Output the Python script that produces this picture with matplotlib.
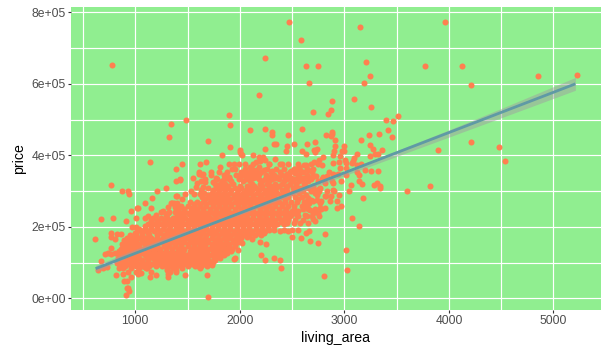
import numpy as np
import matplotlib
matplotlib.use("Agg")
import matplotlib.pyplot as plt

plt.rcParams['font.family'] = ['Liberation Sans', 'DejaVu Sans']

# scattered points
sparse_area = [2474, 2589, 780, 2244, 2187, 1900, 1488, 1345, 1909, 1325, 2100, 2244, 2311, 2311, 2464, 2598,
               1699, 1909, 2244, 2330, 2349, 2455, 2445, 2522, 2598, 2005, 2005, 2014, 2024, 1833, 2129, 1144,
               1450, 1392, 1622, 1679, 1813, 1900, 1947, 1995, 1928, 2187, 2225, 2158, 2196, 2244, 2282, 2340, 2407,
               2100, 2100, 2158, 2187, 2234, 2311, 2014, 2100, 2129, 2167, 2187, 2455, 2493, 2532, 2570, 2532, 2580, 2618,
               1612, 1644, 1606, 1427, 1555, 1670, 1775, 1861, 1900, 2005, 2129, 2257, 2340, 2448, 2493, 2608,
               3153, 3967, 2636, 2751, 3211, 3775, 4129, 5230, 4857, 3249, 2665, 3191, 4215, 3096, 2885, 2876,
               2847, 2703, 3258, 3517, 3402, 3469, 3421, 3335, 3239, 3459, 3163, 2885, 2885, 2876, 2828, 2914,
               2722, 2646, 4215, 4483, 3900, 4541, 2914, 3000, 3249, 3278, 3364, 3124, 3297, 3325, 3249, 2713,
               2742, 2722, 2636, 3000, 2981, 2904, 2895, 2962, 2799, 2761, 2713, 2751, 2789, 2895, 2952, 3010,
               3019, 3019, 3096, 3077, 3086, 3124, 3160, 3201, 3258, 3325, 3124, 3144, 3019, 2636, 2655, 2646,
               2713, 2732, 2837, 2895, 2943, 2789, 2958,
               3823, 3603, 3345, 3345, 3287, 3316, 3172, 3144, 3067, 2971, 3048, 3182, 2952, 2895, 2876, 2933,
               2971, 2933, 2818, 2827, 2761, 2742, 3077, 3144, 2818, 2675, 2751, 2665, 2636, 3019, 3029, 2809,
               2703, 2722, 2818, 2770, 2751, 2703, 2675, 2665, 2684, 2742, 2770, 2655, 2636, 2735, 2751, 2719,
               2703, 2767, 2815, 2879, 2895,
               617, 675, 789, 770, 876, 933, 943, 914, 962, 1019, 1029, 1096, 1153, 1163, 1211, 1297, 1392, 1430,
               1632, 1593, 1344, 1373, 1402, 1354, 1392, 1402, 1536, 1450, 1632, 1708, 1555, 1268, 1316, 1124,
               1096, 1010, 971, 1010, 770, 770, 828, 866, 809, 675, 742, 713, 770, 770, 809, 646, 694, 726, 818,
               828, 847, 885, 895, 923, 923, 943, 914, 933, 1699, 1689, 1479, 1316, 1316, 1306, 1144, 1201, 961,
               1029, 1058, 1096, 1115, 1392, 1344, 1383, 1603, 1632, 1737, 1747, 1947, 1957, 2206, 2244, 2330,
               2387, 2397, 2254, 2196, 1986, 1919, 1794, 2072, 2024, 2120, 2387, 2464, 2502, 2589]
sparse_price = [774e3, 724e3, 654e3, 671e3, 570e3, 514e3, 500e3, 489e3, 484e3, 450e3, 470e3, 475e3, 464e3, 457e3, 456e3, 475e3,
                439e3, 422e3, 419e3, 431e3, 433e3, 425e3, 411e3, 431e3, 411e3, 414e3, 408e3, 405e3, 400e3, 400e3, 400e3, 380e3,
                375e3, 361e3, 375e3, 380e3, 366e3, 375e3, 375e3, 375e3, 361e3, 394e3, 394e3, 380e3, 383e3, 386e3, 375e3, 389e3, 375e3,
                366e3, 352e3, 360e3, 366e3, 358e3, 355e3, 347e3, 344e3, 347e3, 350e3, 347e3, 347e3, 355e3, 361e3, 366e3, 350e3, 360e3, 372e3,
                352e3, 347e3, 347e3, 335e3, 336e3, 335e3, 336e3, 336e3, 336e3, 336e3, 336e3, 336e3, 336e3, 336e3, 336e3, 336e3,
                760e3, 774e3, 649e3, 651e3, 660e3, 651e3, 649e3, 626e3, 621e3, 621e3, 601e3, 601e3, 598e3, 559e3, 551e3, 526e3,
                517e3, 520e3, 534e3, 509e3, 500e3, 495e3, 470e3, 461e3, 456e3, 450e3, 444e3, 464e3, 459e3, 453e3, 456e3, 442e3,
                436e3, 431e3, 436e3, 422e3, 414e3, 383e3, 425e3, 425e3, 428e3, 419e3, 414e3, 405e3, 405e3, 403e3, 397e3, 414e3,
                417e3, 409e3, 405e3, 411e3, 411e3, 411e3, 400e3, 397e3, 394e3, 388e3, 380e3, 375e3, 372e3, 378e3, 381e3, 387e3,
                378e3, 364e3, 392e3, 378e3, 384e3, 372e3, 375e3, 358e3, 355e3, 355e3, 352e3, 344e3, 344e3, 372e3, 358e3, 341e3,
                341e3, 341e3, 341e3, 349e3, 349e3, 335e3, 364e3,
                313e3, 299e3, 313e3, 310e3, 316e3, 322e3, 319e3, 327e3, 316e3, 329e3, 299e3, 280e3, 288e3, 302e3, 285e3, 271e3,
                257e3, 254e3, 285e3, 285e3, 306e3, 290e3, 224e3, 201e3, 179e3, 159e3, 154e3, 189e3, 184e3, 134e3, 78e3, 62e3,
                221e3, 215e3, 254e3, 252e3, 240e3, 240e3, 246e3, 266e3, 274e3, 274e3, 268e3, 280e3, 288e3, 303e3, 298e3, 294e3,
                308e3, 308e3, 322e3, 327e3, 324e3,
                165e3, 221e3, 224e3, 316e3, 299e3, 299e3, 291e3, 215e3, 243e3, 254e3, 254e3, 266e3, 252e3, 280e3, 299e3, 310e3, 329e3, 330e3,
                329e3, 324e3, 268e3, 268e3, 266e3, 268e3, 285e3, 285e3, 299e3, 277e3, 302e3, 285e3, 252e3, 243e3, 240e3, 229e3,
                226e3, 224e3, 199e3, 199e3, 184e3, 171e3, 179e3, 179e3, 165e3, 103e3, 126e3, 123e3, 140e3, 123e3, 126e3, 78e3, 84e3, 87e3, 64e3,
                98e3, 84e3, 67e3, 48e3, 48e3, 28e3, 20e3, 8e3, 28e3, 3e3, 64e3, 64e3, 67e3, 59e3, 78e3, 59e3, 64e3, 59e3,
                67e3, 70e3, 87e3, 84e3, 78e3, 92e3, 95e3, 89e3, 92e3, 92e3, 103e3, 109e3, 112e3, 120e3, 106e3, 112e3,
                106e3, 84e3, 151e3, 157e3, 134e3, 131e3, 123e3, 171e3, 154e3, 165e3, 187e3, 187e3, 171e3, 168e3]

# the dense cloud, read row by row: one price level and the areas seen on it
row_price = [73e3, 86e3, 91e3, 97e3, 102e3, 108e3, 114e3, 120e3, 126e3, 132e3, 139e3, 145e3, 151e3, 157e3, 164e3, 170e3,
             177e3, 183e3, 189e3, 195e3, 201e3, 208e3, 214e3, 220e3, 226e3, 232e3, 239e3, 245e3, 251e3, 258e3, 264e3, 270e3,
             277e3, 283e3, 290e3, 296e3, 302e3, 308e3, 320e3, 333e3, 346e3,
             314e3, 327e3, 340e3, 352e3, 363e3, 376e3, 300e3, 271e3, 250e3, 230e3, 212e3, 190e3, 241e3, 255e3, 291e3, 311e3, 325e3]
row_area = [
    [930, 1010, 1150, 1330, 1390],
    [880, 960, 1040, 1100, 1300, 1360, 1450, 1620],
    [850, 905, 1005, 1065, 1130, 1195, 1260, 1325, 1385, 1440, 1505, 1570, 1630, 1690],
    [870, 930, 980, 1030, 1090, 1160, 1225, 1290, 1350, 1410, 1470, 1540, 1600, 1660, 1720],
    [825, 900, 960, 1005, 1060, 1125, 1190, 1255, 1320, 1380, 1440, 1505, 1565, 1630, 1690, 1745],
    [850, 900, 955, 1010, 1060, 1120, 1190, 1240, 1300, 1365, 1420, 1480, 1530, 1590, 1650, 1700, 1760],
    [830, 880, 940, 990, 1040, 1110, 1165, 1225, 1280, 1335, 1395, 1455, 1515, 1575, 1630, 1690, 1750, 1810],
    [860, 920, 970, 1030, 1090, 1140, 1200, 1260, 1310, 1370, 1430, 1490, 1550, 1610, 1660, 1720, 1780, 1850],
    [830, 890, 945, 1000, 1060, 1115, 1170, 1230, 1285, 1340, 1400, 1460, 1520, 1580, 1635, 1690, 1750, 1815, 1880],
    [840, 890, 950, 1000, 1060, 1125, 1180, 1235, 1290, 1350, 1405, 1460, 1520, 1570, 1630, 1680, 1740, 1800, 1860, 1890],
    [860, 910, 965, 1020, 1075, 1130, 1185, 1240, 1295, 1350, 1410, 1470, 1530, 1595, 1645, 1705, 1760, 1815, 1870, 1925],
    [880, 930, 985, 1040, 1100, 1150, 1210, 1270, 1320, 1380, 1440, 1500, 1560, 1620, 1670, 1730, 1790, 1840, 1900, 1950],
    [875, 925, 980, 1035, 1090, 1150, 1210, 1270, 1325, 1380, 1440, 1500, 1560, 1615, 1670, 1730, 1785, 1845, 1900, 1955],
    [900, 950, 1010, 1065, 1120, 1180, 1240, 1300, 1350, 1410, 1470, 1530, 1590, 1640, 1700, 1760, 1815, 1870, 1930, 1985],
    [895, 945, 1000, 1060, 1120, 1175, 1235, 1295, 1350, 1410, 1465, 1525, 1585, 1640, 1700, 1760, 1815, 1870, 1930, 1985],
    [920, 975, 1030, 1090, 1150, 1205, 1265, 1320, 1380, 1440, 1495, 1555, 1610, 1670, 1730, 1790, 1845, 1900, 1960, 2010],
    [950, 1010, 1065, 1130, 1210, 1270, 1330, 1390, 1445, 1505, 1560, 1620, 1680, 1740, 1800, 1855, 1915, 1970, 2030, 2090, 2145, 2200],
    [1000, 1060, 1120, 1240, 1300, 1360, 1415, 1475, 1530, 1590, 1650, 1710, 1770, 1830, 1885, 1945, 2000, 2060, 2120, 2170, 2230],
    [1015, 1070, 1125, 1180, 1240, 1300, 1355, 1415, 1470, 1530, 1590, 1650, 1705, 1765, 1825, 1880, 1940, 2000, 2060, 2120, 2180, 2240],
    [1040, 1090, 1150, 1210, 1265, 1325, 1385, 1440, 1500, 1560, 1620, 1680, 1735, 1795, 1850, 1910, 1970, 2030, 2090, 2150, 2210, 2270],
    [1090, 1150, 1210, 1270, 1330, 1385, 1440, 1500, 1560, 1620, 1675, 1730, 1790, 1850, 1910, 1970, 2030, 2090, 2150, 2210, 2270, 2330],
    [1120, 1180, 1240, 1300, 1355, 1410, 1470, 1530, 1590, 1650, 1700, 1760, 1820, 1880, 1940, 2000, 2060, 2120, 2180, 2240, 2300, 2360, 2420],
    [1150, 1210, 1270, 1330, 1380, 1440, 1500, 1560, 1620, 1675, 1730, 1790, 1850, 1910, 1970, 2030, 2090, 2150, 2210, 2270, 2330, 2390],
    [1150, 1215, 1275, 1330, 1390, 1450, 1510, 1570, 1625, 1685, 1745, 1805, 1865, 1925, 1985, 2040, 2100, 2160, 2220, 2280, 2340, 2400, 2460, 2530, 2600],
    [1170, 1245, 1300, 1360, 1420, 1480, 1540, 1600, 1655, 1715, 1775, 1835, 1895, 1955, 2015, 2070, 2130, 2190, 2250, 2310, 2370, 2430],
    [1200, 1290, 1400, 1460, 1520, 1580, 1640, 1700, 1760, 1820, 1880, 1940, 2000, 2060, 2125, 2185, 2245, 2305, 2365, 2430, 2490, 2550, 2620],
    [1440, 1500, 1560, 1620, 1680, 1740, 1805, 1865, 1920, 1980, 2040, 2100, 2160, 2220, 2280, 2340, 2400, 2460, 2530],
    [1410, 1470, 1530, 1590, 1650, 1710, 1775, 1835, 1890, 1950, 2010, 2070, 2130, 2190, 2250, 2310, 2370, 2430, 2500, 2560],
    [1470, 1530, 1590, 1650, 1710, 1770, 1830, 1890, 1950, 2010, 2070, 2130, 2190, 2250, 2310, 2370],
    [1440, 1500, 1560, 1620, 1680, 1740, 1800, 1860, 1920, 1980, 2040, 2100, 2160, 2220, 2280, 2340, 2400, 2460, 2520, 2590, 2640],
    [1560, 1620, 1680, 1740, 1800, 1860, 1920, 1980, 2040, 2100, 2160, 2220, 2280, 2340, 2400],
    [1520, 1590, 1650, 1710, 1770, 1830, 1890, 1950, 2010, 2070, 2130, 2190, 2250, 2310, 2370, 2430, 2490, 2550, 2610],
    [1670, 1730, 1790, 1850, 1910, 1970, 2030, 2090, 2150, 2220, 2290, 2360, 2430, 2560],
    [1640, 1700, 1760, 1820, 1880, 1940, 2000, 2060, 2125, 2190, 2260, 2320, 2400, 2460, 2530, 2590],
    [1700, 1760, 1820, 1880, 1940, 2000, 2060, 2130, 2200, 2260, 2330, 2390],
    [1660, 1730, 1790, 1850, 1910, 1970, 2030, 2100, 2160, 2230, 2290, 2360, 2420, 2500, 2570],
    [1740, 1800, 1860, 1920, 1980, 2060, 2120, 2180, 2250, 2320, 2400],
    [1700, 1770, 1830, 1880, 1950, 2010, 2090, 2150, 2210, 2280, 2350, 2440, 2510, 2580, 2650],
    [1760, 1810, 1860, 1930, 2120, 2190, 2260, 2340, 2400, 2480, 2540, 2610],
    [1780, 1850, 1900, 1990, 2060, 2180, 2240, 2310, 2370, 2450, 2520, 2600, 2680],
    [1640, 1720, 1850, 1960, 2040, 2110, 2170, 2250, 2330, 2400, 2470, 2570, 2640],
    [1820, 1890, 2000, 2070, 2140, 2210, 2300, 2370, 2450, 2540, 2620, 2700],
    [1830, 1920, 2030, 2100, 2210, 2280, 2420, 2500, 2570, 2650, 2750],
    [1900, 2080, 2150, 2290, 2360, 2430, 2560, 2690, 2800],
    [1720, 1800, 1880, 2010, 2060, 2200, 2300, 2380, 2480, 2530, 2600, 2690, 2850],
    [1950, 2050, 2120, 2260, 2350, 2420, 2520, 2640, 2700],
    [2050, 2130, 2280, 2380, 2460, 2560, 2680],
    [2450, 2530, 2600, 2680, 2760, 2830, 2900],
    [2640, 2700, 2780, 2860],
    [2440, 2520, 2600, 2650, 2720, 2780],
    [2480, 2560, 2640, 2690, 2760],
    [2450, 2520, 2580, 2650],
    [2280, 2330, 2420, 2500, 2560],
    [1250, 1320, 1380],
    [1310, 1380, 1430],
    [1480, 1560, 1620],
    [1580, 1650],
    [1670, 1740],
]

# fitted line and its confidence band
line_area = [620, 5210]
line_price = [83e3, 600e3]
band_area = [620, 1000, 1500, 2000, 3000, 3500, 4000, 4500, 5210]
band_lower = [74e3, 125e3, 182e3, 234e3, 343e3, 397e3, 451e3, 505e3, 582e3]
band_upper = [92e3, 137e3, 191e3, 242e3, 355e3, 413e3, 471e3, 531e3, 618e3]

x_ticks = [1000, 2000, 3000, 4000, 5000]
x_minor = [500, 1500, 2500, 3500, 4500]
y_ticks = [0, 2e5, 4e5, 6e5, 8e5]
y_minor = [1e5, 3e5, 5e5, 7e5]
y_labels = ['0e+00', '2e+05', '4e+05', '6e+05', '8e+05']

W, H = 609, 357
fig = plt.figure(figsize=(W / 100, H / 100), dpi=100)
ax = fig.add_axes([71 / W, (H - 310) / H, 530 / W, 303 / H])
ax.set_facecolor('#90EE90')

# rows go in after the single points
all_area = list(sparse_area)
all_price = list(sparse_price)
for p, areas in zip(row_price, row_area):
    all_area += areas
    all_price += [p] * len(areas)

ax.scatter(all_area, all_price, s=19, color='#FF7F50', linewidths=0, zorder=3)
ax.fill_between(band_area, band_lower, band_upper, color='#A0A0A0', alpha=0.5, linewidth=0, zorder=4)
ax.plot(line_area, line_price, color='#5F9AA5', lw=2.0, solid_capstyle='butt', zorder=5)

ax.set_xlim(385, 5455)
ax.set_ylim(-32700, 815000)
ax.set_xticks(x_ticks)
ax.set_yticks(y_ticks)
ax.set_yticklabels(y_labels)
ax.set_xticks(x_minor, minor=True)
ax.set_yticks(y_minor, minor=True)
ax.grid(which='both', color='white', lw=0.85, zorder=1)
ax.set_axisbelow(True)
ax.tick_params(which='minor', length=0)
ax.tick_params(which='major', length=2.2, width=0.8, color='#333333', labelcolor='#4D4D4D',
               labelsize=8.7, pad=1.5)
for s in ax.spines.values():
    s.set_visible(False)

ax.set_xlabel('living_area', fontsize=10.2, labelpad=2.5, color='black')
ax.set_ylabel('price', fontsize=10.2, labelpad=4, color='black')

fig.savefig('out.png', dpi=100)
